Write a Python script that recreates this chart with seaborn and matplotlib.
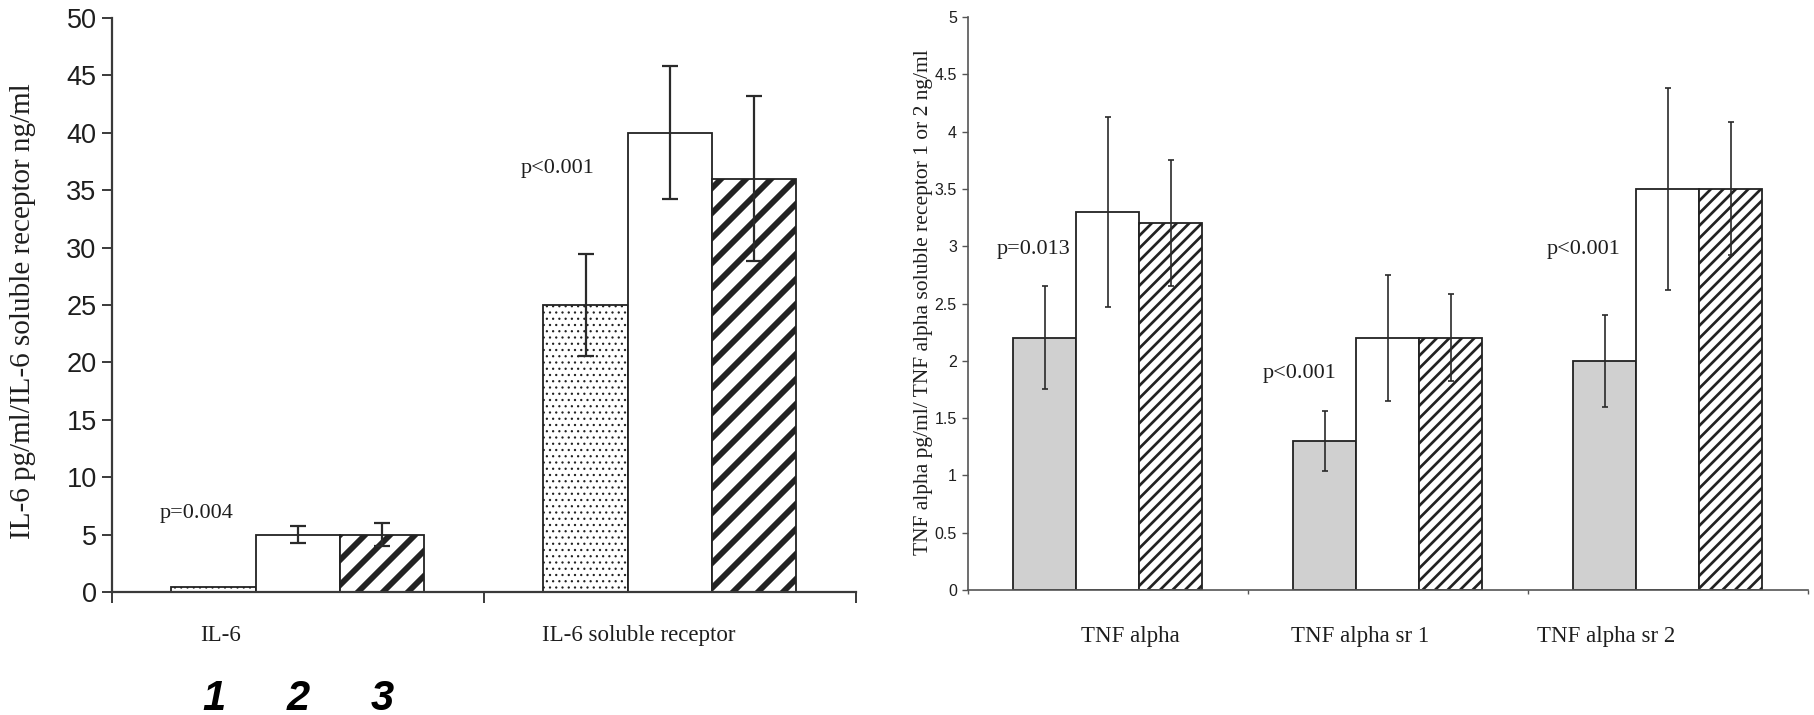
import numpy as np
import pandas as pd
import matplotlib
matplotlib.use("Agg")
import matplotlib.pyplot as plt
import matplotlib.transforms as mtransforms
from matplotlib.ticker import FixedLocator, NullFormatter
import seaborn as sns

# ---------------- data ----------------
groups = ["1", "2", "3"]

il_categories = ["IL-6", "IL-6 soluble receptor"]
il_group1 = [0.4, 25.0]
il_group2 = [5.0, 40.0]
il_group3 = [5.0, 36.0]
il_err1 = [0.0, 4.45]
il_err2 = [0.75, 5.8]
il_err3 = [1.0, 7.2]
il_pvalues = ["p=0.004", "p<0.001"]
il_yticks = [0, 5, 10, 15, 20, 25, 30, 35, 40, 45, 50]

tnf_categories = ["TNF alpha", "TNF alpha sr 1", "TNF alpha sr 2"]
tnf_group1 = [2.2, 1.3, 2.0]
tnf_group2 = [3.3, 2.2, 3.5]
tnf_group3 = [3.2, 2.2, 3.5]
tnf_err1 = [0.45, 0.26, 0.40]
tnf_err2 = [0.83, 0.55, 0.88]
tnf_err3 = [0.55, 0.38, 0.58]
tnf_pvalues = ["p=0.013", "p<0.001", "p<0.001"]
tnf_yticks = [0, 0.5, 1, 1.5, 2, 2.5, 3, 3.5, 4, 4.5, 5]
tnf_ytick_labels = ["0", "0.5", "1", "1.5", "2", "2.5", "3", "3.5", "4", "4.5", "5"]

il_ylabel = "IL-6 pg/ml/IL-6 soluble receptor ng/ml"
tnf_ylabel = "TNF alpha pg/ml/ TNF alpha soluble receptor 1 or 2 ng/ml"


def make_df(cats, series):
    rows = []
    for g, vals in zip(groups, series):
        for c, v in zip(cats, vals):
            rows.append({"category": c, "group": g, "value": v})
    return pd.DataFrame(rows)


il_df = make_df(il_categories, [il_group1, il_group2, il_group3])
tnf_df = make_df(tnf_categories, [tnf_group1, tnf_group2, tnf_group3])

# ---------------- style ----------------
DPI = 75
K = 100.0 / DPI          # sizes below are tuned in "points at 100 dpi"


def s(v):
    return v * K


sns.set_style("ticks")
plt.rcParams["font.family"] = ["Liberation Serif", "DejaVu Serif"]
plt.rcParams["hatch.color"] = "#121212"
SANS = ["Liberation Sans", "DejaVu Sans"]
TXT = "#1e1e1e"

fig = plt.figure(figsize=(1814 / DPI, 715 / DPI), dpi=DPI)
ax1 = fig.add_axes([0.0617, 0.172, 0.4101, 0.8028])
ax2 = fig.add_axes([0.5336, 0.1748, 0.4630, 0.8014])


def draw_panel(ax, df, cats, errs, colors, hatches, hatch_lw, width,
               spine_lw, spine_col, err_lw, capsize):
    sns.barplot(data=df, x="category", y="value", hue="group",
                order=cats, hue_order=groups, palette=colors,
                width=width, errorbar=None, saturation=1,
                edgecolor="#222222", linewidth=s(1.3), legend=False, ax=ax)
    for cont, h, hlw, err in zip(ax.containers, hatches, hatch_lw, errs):
        xs, ys, es = [], [], []
        for p, e in zip(cont.patches, err):
            if h:
                p.set_hatch(h)
                try:
                    p.set_hatch_linewidth(hlw)
                except AttributeError:
                    pass
            if e > 0:
                xs.append(p.get_x() + p.get_width() / 2)
                ys.append(p.get_height())
                es.append(e)
        ax.errorbar(xs, ys, yerr=es, fmt="none", ecolor="#2a2a2a",
                    elinewidth=s(err_lw), capsize=s(capsize),
                    capthick=s(err_lw), zorder=5)
    n = len(cats)
    ax.set_xlim(-0.5, n - 0.5)
    for sp in ["top", "right"]:
        ax.spines[sp].set_visible(False)
    for sp in ["left", "bottom"]:
        ax.spines[sp].set_linewidth(s(spine_lw))
        ax.spines[sp].set_color(spine_col)
    ax.set_xlabel("")
    ax.xaxis.set_minor_locator(FixedLocator([i - 0.5 for i in range(n + 1)]))
    ax.xaxis.set_minor_formatter(NullFormatter())


# ---- left panel ----
draw_panel(ax1, il_df, il_categories, [il_err1, il_err2, il_err3],
           ["white", "white", "white"], ["..", None, "/"], [1.0, 1.0, 5.6],
           0.68, 1.6, "#3a3a3a", 1.6, 6)
ax1.set_ylim(0, 50)
ax1.set_yticks(il_yticks)
ax1.set_yticklabels([str(t) for t in il_yticks], fontfamily=SANS,
                    fontsize=s(19.5), color=TXT)
ax1.tick_params(axis="y", length=s(7), width=s(1.4), color="#3a3a3a", pad=s(4))
ax1.tick_params(axis="x", which="minor", length=s(8), width=s(1.4),
                color="#3a3a3a")
ax1.set_xticks([0 - 0.207, 1 - 0.083])
ax1.set_xticklabels(il_categories, fontsize=s(16.5), color=TXT)
ax1.tick_params(axis="x", which="major", length=0, pad=s(24))
ax1.set_ylabel(il_ylabel, fontsize=s(21), color=TXT)
ax1.yaxis.set_label_coords(-0.102, 0.49)

for i, (txt, dx, y) in enumerate(zip(il_pvalues, [-0.371, -0.40], [6.8, 36.9])):
    ax1.text(i + dx, y, txt, fontsize=s(16), color=TXT, ha="left", va="center")

# group number labels under the IL-6 bars
trans = mtransforms.blended_transform_factory(ax1.transData, fig.transFigure)
for g, cont in zip(groups, ax1.containers):
    p = cont.patches[0]
    ax1.text(p.get_x() + p.get_width() / 2, 0.023, g, transform=trans,
             fontsize=s(30), fontweight="bold", fontstyle="italic",
             fontfamily=SANS, color="black", ha="center", va="center")

# ---- right panel ----
draw_panel(ax2, tnf_df, tnf_categories, [tnf_err1, tnf_err2, tnf_err3],
           ["#d0d0d0", "white", "white"], [None, None, "//"], [1.0, 1.0, 2.6],
           0.675, 1.2, "#555555", 1.2, 2.5)
ax2.set_ylim(0, 5)
ax2.set_yticks(tnf_yticks)
ax2.set_yticklabels(tnf_ytick_labels, fontfamily=SANS, fontsize=s(11.5),
                    color=TXT)
ax2.tick_params(axis="y", length=s(4), width=s(1.0), color="#555555", pad=s(4))
ax2.tick_params(axis="x", which="minor", length=s(3), width=s(1.0),
                color="#555555")
ax2.set_xticks([0 + 0.08, 1 - 0.10, 2 - 0.22])
ax2.set_xticklabels(tnf_categories, fontsize=s(16.5), color=TXT)
ax2.tick_params(axis="x", which="major", length=0, pad=s(26))
ax2.set_ylabel(tnf_ylabel, fontsize=s(15.5), color=TXT)
ax2.yaxis.set_label_coords(-0.042, 0.503)

for i, (txt, dx, y) in enumerate(zip(tnf_pvalues, [-0.396, -0.446, -0.432],
                                     [2.97, 1.89, 2.97])):
    ax2.text(i + dx, y, txt, fontsize=s(16), color=TXT, ha="left", va="center")

fig.savefig("out.png", dpi=DPI)
